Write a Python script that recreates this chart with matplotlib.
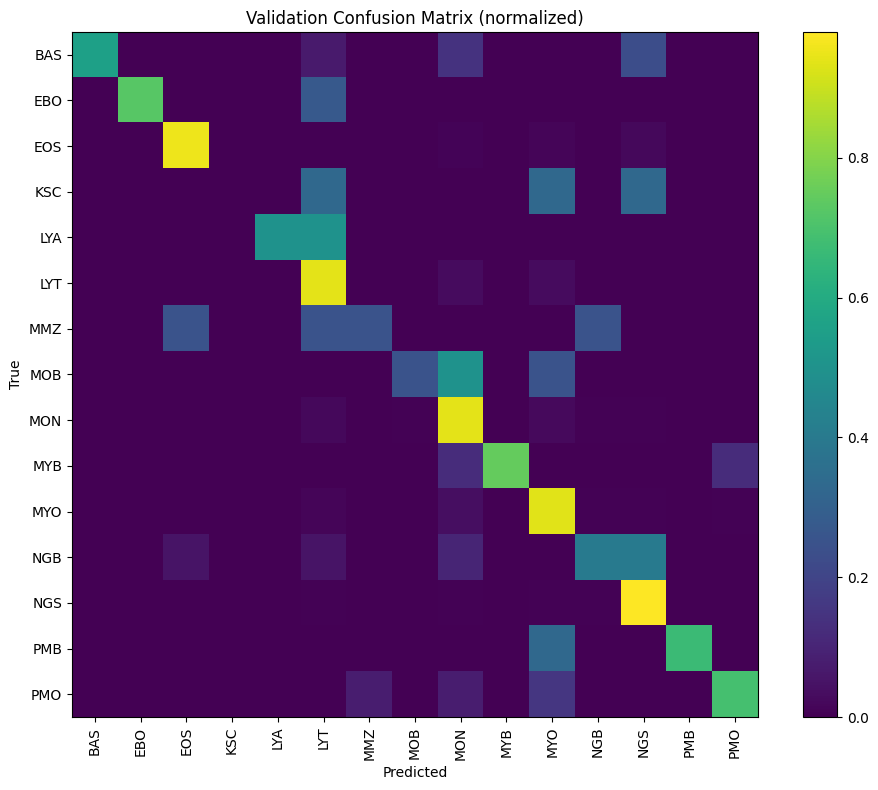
import numpy as np
import matplotlib
matplotlib.use("Agg")
from matplotlib import pyplot as plt

# class labels (rows = true, columns = predicted)
classes = ['BAS', 'EBO', 'EOS', 'KSC', 'LYA', 'LYT', 'MMZ', 'MOB',
           'MON', 'MYB', 'MYO', 'NGB', 'NGS', 'PMB', 'PMO']

# row-normalized values
#          BAS    EBO    EOS    KSC  LYA  LYT    MMZ    MOB    MON    MYB   MYO    NGB    NGS    PMB    PMO
row_BAS = [0.556, 0,     0,     0,   0,   0.071, 0,     0,     0.143, 0,    0,     0,     0.23,  0,     0]
row_EBO = [0,     0.727, 0,     0,   0,   0.273, 0,     0,     0,     0,    0,     0,     0,     0,     0]
row_EOS = [0,     0,     0.955, 0,   0,   0,     0,     0,     0.01,  0,    0.015, 0,     0.02,  0,     0]
row_KSC = [0,     0,     0,     0,   0,   0.333, 0,     0,     0,     0,    0.333, 0,     0.333, 0,     0]
row_LYA = [0,     0,     0,     0,   0.5, 0.5,   0,     0,     0,     0,    0,     0,     0,     0,     0]
row_LYT = [0,     0,     0,     0,   0,   0.94,  0,     0,     0.03,  0,    0.03,  0,     0,     0,     0]
row_MMZ = [0,     0,     0.25,  0,   0,   0.25,  0.25,  0,     0,     0,    0,     0.25,  0,     0,     0]
row_MOB = [0,     0,     0,     0,   0,   0,     0,     0.25,  0.5,   0,    0.25,  0,     0,     0,     0]
row_MON = [0,     0,     0,     0,   0,   0.02,  0,     0.005, 0.94,  0,    0.025, 0.005, 0.005, 0,     0]
row_MYB = [0,     0,     0,     0,   0,   0,     0,     0,     0.125, 0.75, 0,     0,     0,     0,     0.125]
row_MYO = [0,     0,     0,     0,   0,   0.015, 0,     0,     0.035, 0,    0.935, 0.005, 0.005, 0,     0.005]
row_NGB = [0,     0,     0.05,  0,   0,   0.05,  0,     0,     0.1,   0,    0,     0.4,   0.4,   0,     0]
row_NGS = [0,     0,     0,     0,   0,   0.005, 0,     0,     0.005, 0,    0.005, 0.005, 0.98,  0,     0]
row_PMB = [0,     0,     0,     0,   0,   0,     0,     0,     0,     0,    0.333, 0,     0,     0.667, 0]
row_PMO = [0,     0,     0,     0,   0,   0,     0.077, 0,     0.077, 0,    0.154, 0,     0,     0,     0.692]

cm = np.array([row_BAS, row_EBO, row_EOS, row_KSC, row_LYA, row_LYT, row_MMZ, row_MOB,
               row_MON, row_MYB, row_MYO, row_NGB, row_NGS, row_PMB, row_PMO])

fig = plt.figure(figsize=(8.79, 7.9), dpi=100)
ax = fig.add_axes([0.0819, 0.0924, 0.7804, 0.8671])
cax = fig.add_axes([0.9135, 0.0924, 0.0387, 0.8671])

im = ax.imshow(cm, cmap='viridis', aspect='auto', interpolation='nearest')
fig.colorbar(im, cax=cax)

ax.set_xticks(np.arange(len(classes)))
ax.set_yticks(np.arange(len(classes)))
ax.set_xticklabels(classes, rotation=90)
ax.set_yticklabels(classes)

# PLOT SETTINGS
ax.set_title('Validation Confusion Matrix (normalized)')
ax.set_xlabel('Predicted')
ax.set_ylabel('True')

plt.savefig('out.png', dpi=100)
